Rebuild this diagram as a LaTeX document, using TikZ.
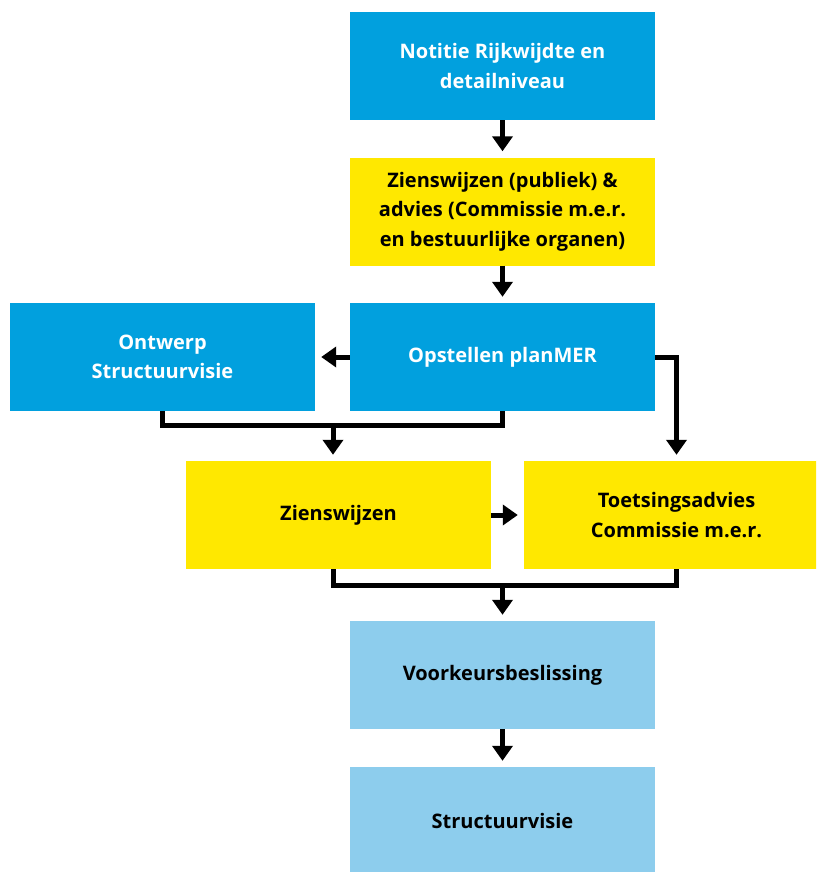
\documentclass[tikz,border=0pt]{standalone}
\usepackage{fontspec}
\setmainfont{Open Sans}
\usetikzlibrary{arrows.meta}
\definecolor{rijksblauw}{RGB}{1,160,222}
\definecolor{rijksgeel}{RGB}{255,232,0}
\definecolor{lichtblauw}{RGB}{141,205,237}

\begin{document}
\begin{tikzpicture}[x=1pt,y=-1pt,
  box/.style={shape=rectangle,minimum width=305pt,minimum height=108pt,inner sep=0pt,align=center,font=\fontsize{20}{29.5}\selectfont\bfseries},
  bluebox/.style={box,fill=rijksblauw,text=white},
  yellowbox/.style={box,fill=rijksgeel,text=black},
  lightbox/.style={box,fill=lichtblauw,text=black},
  line/.style={line width=5pt,draw=black},
  arrow/.style={line,-{Triangle[width=20pt,length=15pt]},shorten >=6pt}]
\useasboundingbox (0,0) rectangle (816,872);
\clip (0,0) rectangle (816,872);
\node[bluebox] (A) at (502.5,66) {Notitie Rijkwijdte en\\detailniveau};
\node[yellowbox] (B) at (502.5,211.5) {Zienswijzen (publiek) \&\\advies (Commissie m.e.r.\\en bestuurlijke organen)};
\node[bluebox] (C) at (502.5,357) {Opstellen planMER};
\node[bluebox] (D) at (162.5,357) {Ontwerp\\Structuurvisie};
\node[yellowbox] (E) at (338.5,515) {Zienswijzen};
\node[yellowbox] (F) at (676.5,515) {Toetsingsadvies\\Commissie m.e.r.};
\node[lightbox] (G) at (502.5,675) {Voorkeursbeslissing};
\node[lightbox] (H) at (502.5,821) {Structuurvisie};
\coordinate (J) at (333,425);
\coordinate (K) at (502.5,585);
\draw[arrow] (A) -- (B);
\draw[arrow] (B) -- (C);
\draw[arrow] (C) -- (D);
\draw[arrow] (C.east) -| (F.north);
\draw[line] (D.south) |- (J) -| (C.south);
\draw[arrow] (J) -- (J |- E.north);
\draw[arrow] (E) -- (F);
\draw[line] (J |- E.south) |- (K) -| (F.south);
\draw[arrow] (K) -- (G.north);
\draw[arrow] (G) -- (H);
\end{tikzpicture}
\end{document}
